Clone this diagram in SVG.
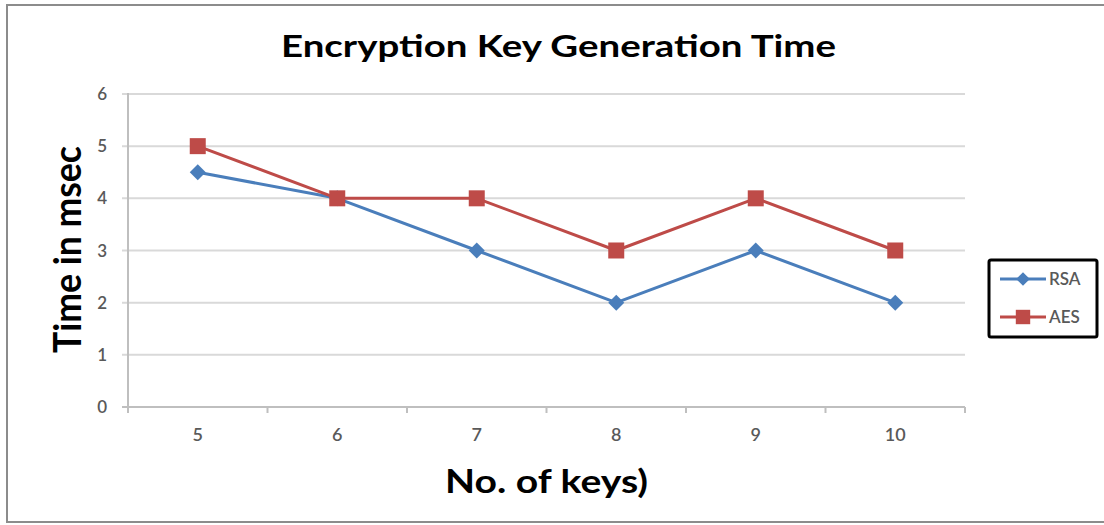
<svg xmlns="http://www.w3.org/2000/svg" width="1104" height="525" viewBox="0 0 1104 525">
<style>
.grid{stroke:#d9d9d9;stroke-width:2;fill:none}
.axis{stroke:#bfbfbf;stroke-width:2;fill:none}
.lbl{font-family:Lato,"Liberation Sans",sans-serif;font-size:17px;fill:#595959;font-weight:600}
.ttl{font-family:Lato,"Open Sans","Liberation Sans",sans-serif;font-weight:bold;fill:#000}
.rsa{stroke:#4a7ebb;stroke-width:3;fill:none;stroke-linejoin:round}
.aes{stroke:#be4b48;stroke-width:3;fill:none;stroke-linejoin:round}
.rsaM{fill:#4a7ebb}
.aesM{fill:#be4b48}
</style>
<defs>
<path id="dia" d="M0,-8 L8,0 L0,8 L-8,0 Z"/>
<rect id="sq" x="-8" y="-8" width="16" height="16"/>
</defs>
<rect x="0" y="0" width="1104" height="525" fill="#fff"/>
<rect x="7" y="5" width="1110" height="517" fill="#fff" stroke="#8c8c8c" stroke-width="2"/>
<g id="title">
<text class="ttl" x="558.5" y="57" font-size="30" text-anchor="middle" textLength="555" lengthAdjust="spacingAndGlyphs">Encryption Key Generation Time</text>
</g>
<g id="gridlines">
<line class="grid" x1="122" y1="93.98" x2="965" y2="93.98"/>
<line class="grid" x1="122" y1="146.15" x2="965" y2="146.15"/>
<line class="grid" x1="122" y1="198.32" x2="965" y2="198.32"/>
<line class="grid" x1="122" y1="250.49" x2="965" y2="250.49"/>
<line class="grid" x1="122" y1="302.66" x2="965" y2="302.66"/>
<line class="grid" x1="122" y1="354.83" x2="965" y2="354.83"/>
</g>
<g id="axes">
<line class="axis" x1="128" y1="93" x2="128" y2="413"/>
<line class="axis" x1="122" y1="407" x2="965" y2="407"/>
<line class="axis" x1="267.5" y1="407" x2="267.5" y2="413"/>
<line class="axis" x1="407" y1="407" x2="407" y2="413"/>
<line class="axis" x1="546.5" y1="407" x2="546.5" y2="413"/>
<line class="axis" x1="686" y1="407" x2="686" y2="413"/>
<line class="axis" x1="825.5" y1="407" x2="825.5" y2="413"/>
<line class="axis" x1="965" y1="407" x2="965" y2="413"/>
</g>
<g id="y-labels" class="lbl" text-anchor="end">
<text x="107" y="100">6</text>
<text x="107" y="152.2">5</text>
<text x="107" y="204.3">4</text>
<text x="107" y="256.5">3</text>
<text x="107" y="308.7">2</text>
<text x="107" y="360.8">1</text>
<text x="107" y="413">0</text>
</g>
<g id="x-labels" class="lbl" text-anchor="middle" style="font-size:18px">
<text x="197.75" y="441">5</text>
<text x="337.25" y="441">6</text>
<text x="476.75" y="441">7</text>
<text x="616.25" y="441">8</text>
<text x="755.75" y="441">9</text>
<text x="895.25" y="441">10</text>
</g>
<g id="y-title">
<text class="ttl" font-size="38" text-anchor="middle" transform="translate(81,249.5) rotate(-90)" textLength="207" lengthAdjust="spacingAndGlyphs">Time in msec</text>
</g>
<g id="x-title">
<text class="ttl" x="546.5" y="493" font-size="33" text-anchor="middle" textLength="203" lengthAdjust="spacingAndGlyphs">No. of keys)</text>
</g>
<g id="connectors">
<polyline class="rsa" points="197.75,172.24 337.25,198.32 476.75,250.49 616.25,302.66 755.75,250.49 895.25,302.66"/>
<polyline class="aes" points="197.75,146.15 337.25,198.32 476.75,198.32 616.25,250.49 755.75,198.32 895.25,250.49"/>
</g>
<g id="rsa-points" class="rsaM">
<use href="#dia" x="197.75" y="172.24"/>
<use href="#dia" x="337.25" y="198.32"/>
<use href="#dia" x="476.75" y="250.49"/>
<use href="#dia" x="616.25" y="302.66"/>
<use href="#dia" x="755.75" y="250.49"/>
<use href="#dia" x="895.25" y="302.66"/>
</g>
<g id="aes-points" class="aesM">
<use href="#sq" x="197.75" y="146.15"/>
<use href="#sq" x="337.25" y="198.32"/>
<use href="#sq" x="476.75" y="198.32"/>
<use href="#sq" x="616.25" y="250.49"/>
<use href="#sq" x="755.75" y="198.32"/>
<use href="#sq" x="895.25" y="250.49"/>
</g>
<g id="legend">
<rect x="989" y="260" width="108" height="77" rx="2" fill="#fff" stroke="#000" stroke-width="3"/>
<line class="rsa" x1="1000" y1="279" x2="1046" y2="279"/>
<use href="#dia" x="1023" y="279" class="rsaM" transform="translate(1023,279) scale(0.85) translate(-1023,-279)"/>
<text class="lbl" x="1049" y="285" style="font-size:17px">RSA</text>
<line class="aes" x1="1000" y1="317" x2="1046" y2="317"/>
<use href="#sq" x="1023" y="317" class="aesM" transform="translate(1023,317) scale(0.9) translate(-1023,-317)"/>
<text class="lbl" x="1049" y="323" style="font-size:17px">AES</text>
</g>
</svg>
